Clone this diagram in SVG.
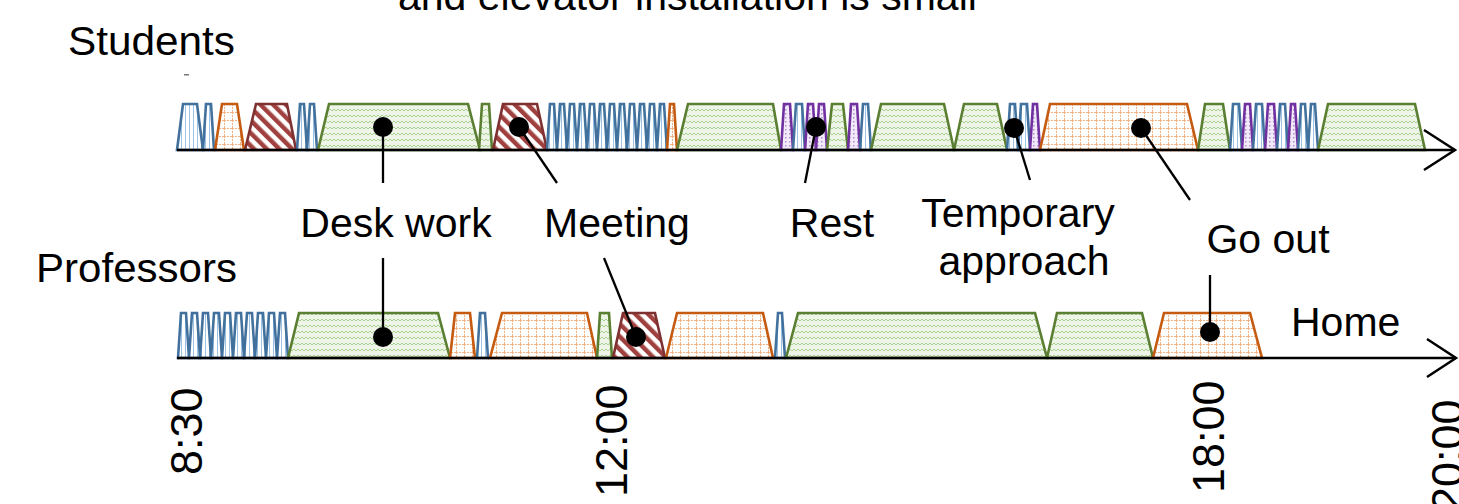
<svg xmlns="http://www.w3.org/2000/svg" width="1459" height="504" viewBox="0 0 1459 504">
<defs>
<pattern id="pb" width="4" height="4" patternUnits="userSpaceOnUse"><rect width="4" height="4" fill="#fff"/><line x1="1.5" y1="0" x2="1.5" y2="4" stroke="#9DC3E6" stroke-width="1"/></pattern>
<pattern id="po" width="8" height="8" patternUnits="userSpaceOnUse"><rect width="8" height="8" fill="#fff"/><path d="M0 0.5H8M0.5 0V8" stroke="#F4B183" stroke-width="1" stroke-dasharray="2 1"/></pattern>
<pattern id="pg" width="8" height="6" patternUnits="userSpaceOnUse"><rect width="8" height="6" fill="#EEF5E8"/><path d="M0 3 L2 1 L4 3 L6 1 L8 3" fill="none" stroke="#A9D18E" stroke-width="1"/></pattern>
<pattern id="pr" width="9" height="9" patternUnits="userSpaceOnUse" patternTransform="rotate(-45)"><rect width="9" height="9" fill="#fff"/><rect width="4.5" height="9" fill="#A0413F"/></pattern>
<pattern id="pp" width="4" height="4" patternUnits="userSpaceOnUse"><rect width="4" height="4" fill="#F2EAF8"/><rect x="1" y="1" width="1.5" height="1.5" fill="#B38FD1"/></pattern>
</defs>
<style>
text{font-family:"Liberation Sans",Arial,sans-serif;font-size:41px;fill:#000}
.t{font-size:45px}
polygon{stroke-width:2.6;stroke-linejoin:miter}
.b{stroke:#41719C;fill:url(#pb)}
.o{stroke:#C55A11;fill:url(#po)}
.g{stroke:#5B7F32;fill:url(#pg)}
.r{stroke:#7F3030;fill:url(#pr)}
.p{stroke:#7030A0;fill:url(#pp)}
.ax{stroke:#000;stroke-width:2.5;fill:none}
.ld{stroke:#000;stroke-width:2.3;fill:none}
</style>
<rect width="1459" height="504" fill="#fff"/>
<text id="title" x="398" y="10">and elevator installation is small</text>
<g id="students-label"><text x="68" y="55" textLength="167" lengthAdjust="spacingAndGlyphs">Students</text><rect x="184" y="74" width="5" height="1.5" fill="#777"/></g>
<g id="professors-label"><text x="36" y="282" textLength="201" lengthAdjust="spacingAndGlyphs">Professors</text></g>

<g id="students-row">
<polygon id="s1" class="b" points="177,150 183,104 197,104 203,150"/>
<polygon id="s2" class="b" points="203,150 206,104 211,104 214,150"/>
<polygon id="s3" class="o" points="215,150 222,104 237,104 244,150"/>
<polygon id="s4" class="r" points="245,150 256,104 287,104 296,150"/>
<polygon id="s5" class="b" points="297,150 300,104 304,104 307,150"/>
<polygon id="s6" class="b" points="307,150 310,104 314,104 317,150"/>
<polygon id="s7" class="g" points="318,150 329,104 468,104 480,150"/>
<polygon id="s8" class="g" points="479,150 482,104 489,104 492,150"/>
<polygon id="s9" class="r" points="493,150 503,104 537,104 547,150"/>
<polygon id="s10a" class="b" points="547,150 550,104 554,104 557,150"/>
<polygon id="s10b" class="b" points="557,150 560,104 564,104 567,150"/>
<polygon id="s10c" class="b" points="567,150 570,104 574,104 577,150"/>
<polygon id="s10d" class="b" points="577,150 580,104 584,104 587,150"/>
<polygon id="s10e" class="b" points="587,150 590,104 594,104 597,150"/>
<polygon id="s10f" class="b" points="597,150 600,104 604,104 607,150"/>
<polygon id="s10g" class="b" points="607,150 610,104 614,104 617,150"/>
<polygon id="s10h" class="b" points="617,150 620,104 624,104 627,150"/>
<polygon id="s10i" class="b" points="627,150 630,104 634,104 637,150"/>
<polygon id="s10j" class="b" points="637,150 640,104 644,104 647,150"/>
<polygon id="s10k" class="b" points="647,150 650,104 654,104 657,150"/>
<polygon id="s10l" class="b" points="657,150 660,104 664,104 667,150"/>
<polygon id="s11" class="o" points="667,150 670,104 674,104 677,150"/>
<polygon id="s12" class="g" points="677,150 688,104 773,104 781,150"/>
<polygon id="s13" class="p" points="781,150 784,104 790,104 793,150"/>
<polygon id="s14" class="b" points="793,150 796,104 802,104 805,150"/>
<polygon id="s15" class="p" points="805,150 808,104 813,104 816,150"/>
<polygon id="s16" class="p" points="816,150 819,104 824,104 827,150"/>
<polygon id="s17" class="g" points="827,150 832,104 843,104 848,150"/>
<polygon id="s18" class="p" points="848,150 851,104 857,104 860,150"/>
<polygon id="s19" class="b" points="860,150 863,104 868,104 871,150"/>
<polygon id="s20" class="g" points="871,150 881,104 944,104 954,150"/>
<polygon id="s21" class="g" points="954,150 964,104 997,104 1007,150"/>
<polygon id="s22" class="b" points="1007,150 1010,104 1015,104 1018,150"/>
<polygon id="s23" class="b" points="1018,150 1021,104 1027,104 1030,150"/>
<polygon id="s24" class="p" points="1030,150 1033,104 1037,104 1040,150"/>
<polygon id="s25" class="o" points="1040,150 1050,104 1187,104 1198,150"/>
<polygon id="s26" class="g" points="1198,150 1205,104 1223,104 1230,150"/>
<polygon id="s27" class="b" points="1230,150 1233,104 1239,104 1242,150"/>
<polygon id="s28" class="p" points="1242,150 1245,104 1250,104 1253,150"/>
<polygon id="s29" class="b" points="1253,150 1256,104 1262,104 1265,150"/>
<polygon id="s30" class="p" points="1265,150 1268,104 1274,104 1277,150"/>
<polygon id="s31" class="b" points="1277,150 1280,104 1285,104 1288,150"/>
<polygon id="s32" class="p" points="1288,150 1291,104 1295,104 1298,150"/>
<polygon id="s33" class="b" points="1298,150 1301,104 1305,104 1308,150"/>
<polygon id="s34" class="b" points="1308,150 1311,104 1315,104 1318,150"/>
<polygon id="s35" class="g" points="1318,150 1328,104 1415,104 1425,150"/>
</g>

<g id="professors-row">
<polygon id="p1a" class="b" points="178,358 181,313 186,313 189,358"/>
<polygon id="p1b" class="b" points="189,358 192,313 197,313 200,358"/>
<polygon id="p1c" class="b" points="200,358 203,313 208,313 211,358"/>
<polygon id="p1d" class="b" points="211,358 214,313 219,313 222,358"/>
<polygon id="p1e" class="b" points="222,358 225,313 230,313 233,358"/>
<polygon id="p1f" class="b" points="233,358 236,313 241,313 244,358"/>
<polygon id="p1g" class="b" points="244,358 247,313 252,313 255,358"/>
<polygon id="p1h" class="b" points="255,358 258,313 263,313 266,358"/>
<polygon id="p1i" class="b" points="266,358 269,313 274,313 277,358"/>
<polygon id="p1j" class="b" points="277,358 280,313 285,313 288,358"/>
<polygon id="p2" class="g" points="288,358 299,313 438,313 450,358"/>
<polygon id="p3" class="o" points="450,358 455,313 470,313 475,358"/>
<polygon id="p4" class="b" points="477,358 480,313 485,313 488,358"/>
<polygon id="p5" class="o" points="490,358 502,313 587,313 597,358"/>
<polygon id="p6" class="g" points="597,358 600,313 609,313 612,358"/>
<polygon id="p7" class="r" points="613,358 623,313 655,313 665,358"/>
<polygon id="p8" class="o" points="666,358 677,313 763,313 773,358"/>
<polygon id="p9" class="b" points="775,358 778,313 782,313 785,358"/>
<polygon id="p10" class="g" points="786,358 798,313 1035,313 1047,358"/>
<polygon id="p11" class="g" points="1047,358 1057,313 1142,313 1153,358"/>
<polygon id="p12" class="o" points="1153,358 1164,313 1250,313 1262,358"/>
</g>

<g id="axes">
<line class="ax" x1="177" y1="150" x2="1455" y2="150"/>
<polyline class="ax" points="1424,130 1455,150 1424,170"/>
<line class="ax" x1="177" y1="358" x2="1456" y2="358"/>
<polyline class="ax" points="1427,339 1456,358 1427,377"/>
</g>

<g id="connectors">
<line class="ld" x1="383" y1="127" x2="383" y2="183"/>
<circle cx="383" cy="127" r="10"/>
<line class="ld" x1="519" y1="127" x2="557" y2="183"/>
<circle cx="519" cy="127" r="10"/>
<line class="ld" x1="816" y1="127" x2="805" y2="183"/>
<circle cx="816" cy="127" r="10"/>
<line class="ld" x1="1014" y1="128" x2="1030" y2="180"/>
<circle cx="1014" cy="128" r="10"/>
<line class="ld" x1="1141" y1="128" x2="1190" y2="200"/>
<circle cx="1141" cy="128" r="10"/>
<line class="ld" x1="383" y1="258" x2="383" y2="337"/>
<circle cx="383" cy="337" r="10"/>
<line class="ld" x1="604" y1="258" x2="636" y2="337"/>
<circle cx="636" cy="337" r="10"/>
<line class="ld" x1="1210" y1="275" x2="1210" y2="332"/>
<circle cx="1210" cy="332" r="10"/>
</g>

<g id="label-desk"><text x="396" y="237" text-anchor="middle">Desk work</text></g>
<g id="label-meeting"><text x="617" y="237" text-anchor="middle">Meeting</text></g>
<g id="label-rest"><text x="832" y="237" text-anchor="middle">Rest</text></g>
<g id="label-temp"><text x="1018" y="227" text-anchor="middle">Temporary</text><text x="1024" y="275" text-anchor="middle">approach</text></g>
<g id="label-goout"><text x="1268" y="253" text-anchor="middle">Go out</text></g>
<g id="label-home"><text x="1291" y="336">Home</text></g>

<g id="time-labels">
<text class="t" transform="translate(202,475) rotate(-90)">8:30</text>
<text class="t" transform="translate(627,497) rotate(-90)">12:00</text>
<text class="t" transform="translate(1224,493) rotate(-90)">18:00</text>
<text class="t" transform="translate(1463,512) rotate(-90)">20:00</text>
</g>
</svg>
